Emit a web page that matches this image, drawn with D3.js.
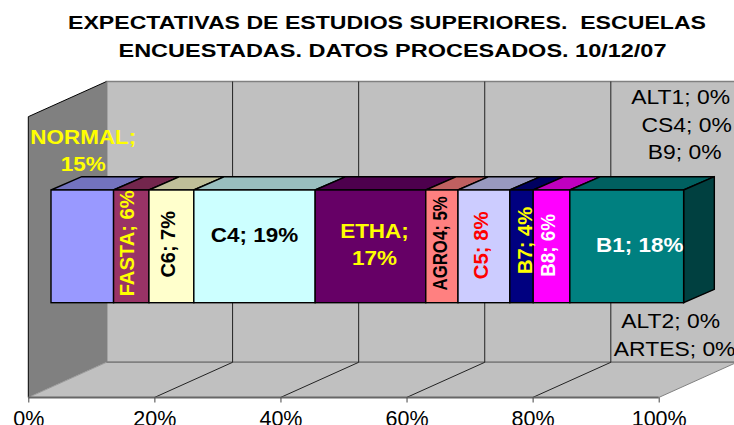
<!DOCTYPE html>
<html><head><meta charset="utf-8">
<script src="https://cdn.jsdelivr.net/npm/d3@7"></script>
<style>html,body{margin:0;padding:0;background:#fff;overflow:hidden}svg{display:block}text{font-family:"Liberation Sans",Arial,sans-serif}</style>
</head><body><svg id="c" width="734" height="425"></svg>
<script>
const titleLines = ["EXPECTATIVAS DE ESTUDIOS SUPERIORES.  ESCUELAS","ENCUESTADAS. DATOS PROCESADOS. 10/12/07"];
const categories = ["NORMAL","FASTA","C6","C4","ETHA","AGRO4","C5","B7","B8","B1"];
const values = [9.9,5.6,7.1,19.2,17.5,5.1,8.2,3.7,5.8,18.0];
const shownPercent = [15,6,7,19,17,5,8,4,6,18];
const zeroTop = ["ALT1","CS4","B9"];
const zeroBottom = ["ALT2","ARTES"];
const tickValues = [0,20,40,60,80,100];

const colors = ["#9999FF","#993366","#FFFFCC","#CCFFFF","#660066","#FF8080","#CCCCFF","#000080","#FF00FF","#008080"];
const labelColors = ["#FFFF00","#FFFF00","#000","#000","#FFFF00","#000","#FF0000","#FFFF00","#fff","#fff"];
// label layout: r = rotated, sx = stretch along the text, dx/dy relative to segment centre and bar centre
const layout = [
 {dx:1,dy:-96,wrap:true,sx:1.07},{dx:-5,dy:-3,r:true,sx:.96},{dx:-4,dy:-2,r:true,sx:.95},{dx:0,dy:-12,sx:1.07},
 {dx:4,dy:-2,wrap:true,sx:1.07},{dx:-2,dy:-3,r:true,sx:.8},{dx:-4,dy:-1,r:true,sx:.97},{dx:3,dy:-6,r:true,sx:.96},{dx:-4,dy:-1,r:true,sx:.9},{dx:13,dy:-2,sx:1.07}
];

const svg = d3.select("#c");
const floorL=28.3, floorR=658.7, floorY=397.5, wallTopFront=116.7;
const depth={x:78.2,y:35.2};
const barL=51, barR=683, barT=190, barB=302.7, barD={x:30.7,y:13.3};

const x = d3.scaleLinear().domain([0,100]).range([floorL,floorR]);
const barX = d3.scaleLinear().domain([0,100]).range([barL,barR]);
const poly=(pts,fill,stroke,w)=>svg.append("polygon").attr("points",pts.map(p=>p.join(",")).join(" "))
  .attr("fill",fill).attr("stroke",stroke||"none").attr("stroke-width",w||0);

// walls
const backT=wallTopFront-depth.y, backB=floorY-depth.y, backL=floorL+depth.x, backR=floorR+depth.x;
poly([[backL,backT],[backR,backT],[backR,backB],[backL,backB]],"#C0C0C0","#808080",1.5);
poly([[floorL,wallTopFront],[backL,backT],[backL,backB],[floorL,floorY]],"#808080");
svg.append("path").attr("d",`M${floorL},${floorY}V${wallTopFront}L${backL},${backT}`).attr("fill","none").attr("stroke","#000").attr("stroke-width",1);
poly([[floorL,floorY],[backL,backB],[backR,backB],[floorR,floorY]],"#C0C0C0");
svg.append("line").attr("x1",floorL).attr("y1",floorY).attr("x2",backL).attr("y2",backB).attr("stroke","#999");
svg.append("line").attr("x1",floorR).attr("y1",floorY).attr("x2",backR).attr("y2",backB).attr("stroke","#808080");
svg.append("line").attr("x1",backL).attr("y1",backB).attr("x2",backR).attr("y2",backB).attr("stroke","#808080").attr("stroke-width",1.5);
svg.append("line").attr("x1",backL).attr("y1",backB).attr("x2",backL).attr("y2",backT).attr("stroke","#808080").attr("stroke-width",1.5);

// gridlines
tickValues.filter(t=>t>0&&t<100).forEach(t=>{
  svg.append("path").attr("d",`M${x(t)},${floorY}L${x(t)+depth.x},${backB}V${backT}`).attr("fill","none").attr("stroke","#222").attr("stroke-width",1);
});
// axis
const ax = svg.append("g").attr("transform",`translate(0,${floorY})`).call(
  d3.axisBottom(x).tickValues(tickValues).tickFormat(d=>d+"%").tickSize(5).tickPadding(8));
ax.select(".domain").attr("stroke","#666").attr("stroke-width",2).attr("d",`M${floorL},0H${floorR}`);
ax.selectAll(".tick line").attr("stroke","#444");
ax.selectAll(".tick text").attr("font-size",21.5).attr("fill","#000").style("font-family",'"Liberation Sans",Arial,sans-serif');

// title (wide, horizontally stretched lettering)
const titleWidths=[638,548], titleCentres=[387,392.5];
svg.append("g").selectAll("text").data(titleLines).join("text")
  .attr("x",(d,i)=>titleCentres[i]).attr("y",(d,i)=>29+i*27.5).attr("text-anchor","middle")
  .attr("font-size",17.5).attr("font-weight","bold").attr("fill","#000").style("white-space","pre")
  .attr("textLength",(d,i)=>titleWidths[i]).attr("lengthAdjust","spacingAndGlyphs").text(d=>d);

// bar segments
const starts = d3.cumsum(values);
const segs = categories.map((c,i)=>({c,i,a:i?starts[i-1]:0,b:starts[i]}));
const shade=(c,k)=>{const q=d3.rgb(c);return d3.rgb(q.r*k,q.g*k,q.b*k).formatHex();};
segs.forEach(s=>{
  const a=barX(s.a), b=barX(s.b);
  poly([[a,barT],[a+barD.x,barT-barD.y],[b+barD.x,barT-barD.y],[b,barT]],shade(colors[s.i],.75),"#000",1.4);
});
const last=segs[segs.length-1], endX=barX(last.b);
poly([[endX,barT],[endX+barD.x,barT-barD.y],[endX+barD.x,barB-barD.y],[endX,barB]],shade(colors[last.i],.5),"#000",1.4);
segs.forEach(s=>{
  const a=barX(s.a), b=barX(s.b);
  svg.append("rect").attr("x",a).attr("y",barT).attr("width",b-a).attr("height",barB-barT)
    .attr("fill",colors[s.i]).attr("stroke","#000").attr("stroke-width",1.4);
});

// segment labels
const cy=(barT+barB)/2;
const place=(px,py,rot,sx,str,fill,weight)=>svg.append("text")
  .attr("transform",`translate(${px},${py}) rotate(${rot}) scale(${sx},1)`)
  .attr("text-anchor","middle").attr("dominant-baseline","central").attr("font-size",21)
  .attr("font-weight",weight).attr("fill",fill).text(str);
segs.forEach(s=>{
  const l=layout[s.i], cx=(barX(s.a)+barX(s.b))/2+l.dx, y=cy+l.dy, col=labelColors[s.i];
  const label=`${s.c}; ${shownPercent[s.i]}%`;
  if(l.r) place(cx,y,-90,l.sx,label,col,"bold");
  else if(l.wrap){
    place(cx,y-14,0,l.sx,`${s.c};`,col,"bold");
    place(cx,y+13,0,l.sx,`${shownPercent[s.i]}%`,col,"bold");
  } else place(cx,y,0,l.sx,label,col,"bold");
});

// zero-value labels beside the bar end
const topOff=[[-3,-150],[3,-122],[1,-95]], botOff=[[-13,74],[-9,102]];
zeroTop.forEach((d,i)=>place(endX+topOff[i][0],cy+topOff[i][1],0,1.09,`${d}; 0%`,"#000","normal"));
zeroBottom.forEach((d,i)=>place(endX+botOff[i][0],cy+botOff[i][1],0,1.09,`${d}; 0%`,"#000","normal"));
</script></body></html>
